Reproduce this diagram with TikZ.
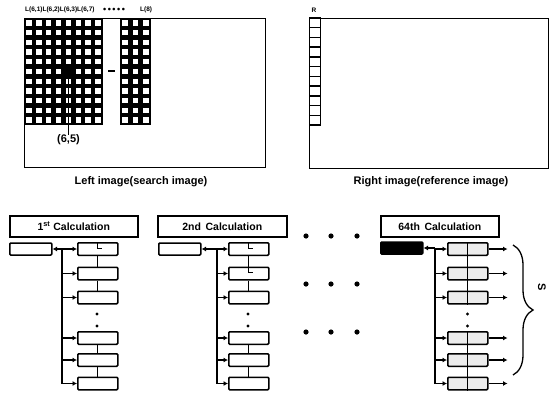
\documentclass[tikz,border=0pt]{standalone}
\usepackage{fontspec}
\setmainfont{Liberation Sans}
\usetikzlibrary{arrows.meta,decorations.pathreplacing}
\begin{document}
\begin{tikzpicture}[x=1pt,y=-1pt,
  lbl/.style={font=\bfseries\fontsize{11}{12}\selectfont, inner sep=0},
  small/.style={font=\bfseries\fontsize{6.5}{7}\selectfont, inner sep=0},
  frame/.style={draw, line width=0.8pt},
  calcbox/.style={draw, line width=1.5pt, fill=white, inner sep=0, anchor=north west, minimum height=21pt, font=\bfseries\fontsize{10.5}{12}\selectfont},
  lbox/.style={draw, line width=1.5pt, rounded corners=1pt, inner sep=0, minimum width=42pt, minimum height=12pt, anchor=west},
  rbox/.style={draw, line width=1.5pt, rounded corners=1pt, inner sep=0, minimum width=40pt, minimum height=12.5pt, anchor=west, fill=white},
  conn/.style={line width=1.3pt},
  tick/.style={line width=0.9pt},
  arr/.style={line width=1.3pt, -{Latex[length=4.5pt,width=5pt]}},
  bigdot/.style={fill=black},
]
\useasboundingbox (0,0) rectangle (549,394);

% ---------- top: left image ----------
\draw[frame] (24,18) rectangle (265,167);
\fill (24,18) rectangle (103,125);
\foreach \i in {0,...,7}{
  \foreach \j in {0,...,10}{
    \fill[white] ({24+\i*9.875+2.2},{18+\j*9.727+2.2}) rectangle ({24+(\i+1)*9.875-2.2},{18+(\j+1)*9.727-2.2});
  }
}
\fill (120,18) rectangle (151,125);
\foreach \i in {0,...,2}{
  \foreach \j in {0,...,10}{
    \fill[white] ({120+\i*10.333+2.2},{18+\j*9.727+2.2}) rectangle ({120+(\i+1)*10.333-2.2},{18+(\j+1)*9.727-2.2});
  }
}
% highlighted cell (6,5)
\node[fill=black, inner sep=0, minimum width=10pt, minimum height=10pt] (hc) at (68.5,71.5) {};
\node[lbl] (p65) at (68.5,140) {(6,5)};
\draw[line width=1.8pt] (hc.center) -- (p65.north);
% minus sign
\draw[line width=2.6pt] (108,71) -- (115,71);
% header text
\node[small, anchor=west] (hdr) at (25,10) {L(6,1)L(6,2)L(6,3)L(6,7)};
\node[small, anchor=west] (hdots) at (103,10.5) {\fontsize{9}{9}\selectfont\textbullet\,\textbullet\,\textbullet\,\textbullet\,\textbullet};
\node[small, anchor=west] (l8) at (140,10) {L(8)};
\node[lbl] (ltitle) at (141,182) {Left image(search image)};

% ---------- top: right image ----------
\draw[frame] (309,18) rectangle (548,168);
\foreach \j in {0,...,10}{
  \draw[line width=1.4pt, fill=white] (309.5,{18+\j*9.727}) rectangle (320.5,{18+(\j+1)*9.727});
}
\node[small] (rlab) at (314,10) {R};
\node[lbl] (rtitle) at (431,182) {Right image(reference image)};

% ---------- bottom: calculation columns ----------
\node[calcbox, minimum width=128pt] (c1h) at (9,215) {1\textsuperscript{st} Calculation};
\node[calcbox, minimum width=129pt] (c2h) at (157,215) {2nd\, Calculation};
\node[calcbox, minimum width=118pt] (c3h) at (380,215) {64th\, Calculation};

\node[lbox] (c1l) at (9,249) {};
\node[lbox] (c2l) at (158,249) {};
\node[lbox, fill=black] (c3l) at (380,248) {};

\foreach \n/\y in {1/249,2/273.5,3/297.5,4/338,5/360,6/383.5}{
  \node[rbox] (c1b\n) at (77,\y) {};
  \node[rbox] (c2b\n) at (228,\y) {};
  \node[rbox, fill=gray!15] (c3b\n) at (447,\y) {};
  \draw[tick] (c3b\n.north) -- (c3b\n.south);
}

% buses
\coordinate (c1j) at (62,249);  \coordinate (c1e) at (62,383.5);
\coordinate (c2j) at (217,249); \coordinate (c2e) at (217,383.5);
\coordinate (c3j) at (435,248); \coordinate (c3e) at (435,383.5);
\foreach \c in {1,2,3}{
  \draw[conn] (c\c j) -- (c\c e);
  \draw[arr] (c\c j) -- (c\c l.east);
  \foreach \n in {1,...,6}{
    \draw[arr] (c\c j |- c\c b\n.west) -- (c\c b\n.west);
  }
  \draw[conn] (c\c b1.south) -- (c\c b2.north);
  \draw[conn] (c\c b2.south) -- (c\c b3.north);
  \draw[conn] (c\c b4.south) -- (c\c b5.north);
  \draw[conn] (c\c b5.south) -- (c\c b6.north);
}
% inner marks
\draw[tick] (c1b1.north) -- ++(0,6) -- ++(4,0);
\draw[tick] (c2b1.north) -- ++(0,6) -- ++(4,0);
\draw[tick] (c2b2.north) -- ++(0,6) -- ++(4,0);

% vertical dots
\foreach \x in {97,248,467.5}{
  \fill (\x,314) circle (1.7);
  \fill (\x,326) circle (1.7);
}
% output arrows
\foreach \n in {1,...,6}{
  \draw[arr] (c3b\n.east) -- ++(19,0);
}

% dots between columns
\foreach \y in {236,284,332}{
  \foreach \x in {306,331,357}{
    \fill[bigdot] (\x,\y) circle (2.6);
  }
}

% brace
\draw[line width=1.3pt, decorate, decoration={brace, amplitude=20pt}] (513,245) -- (513,375);
\node[lbl, rotate=-90] (slab) at (542,287) {S};
\end{tikzpicture}
\end{document}
